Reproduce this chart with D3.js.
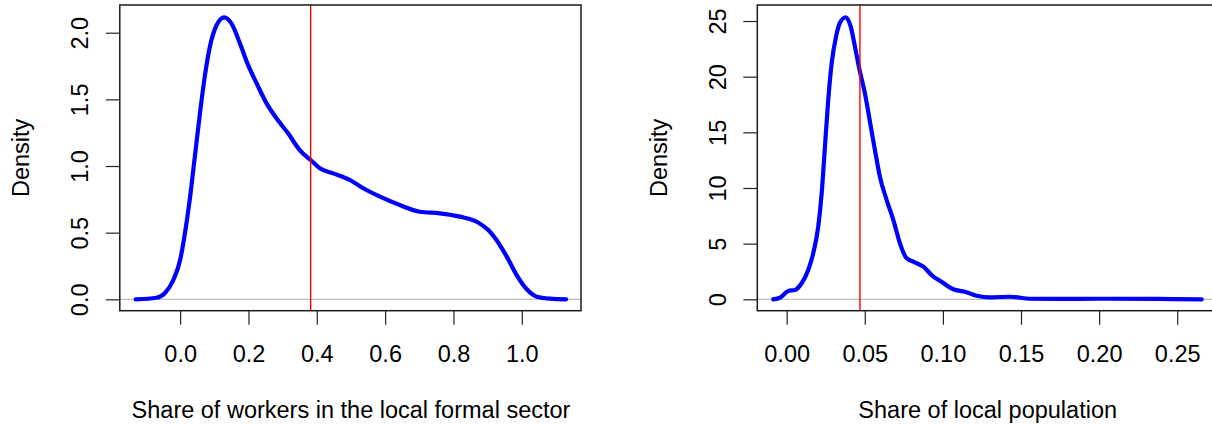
<!DOCTYPE html>
<html>
<head>
<meta charset="utf-8">
<script src="https://cdn.jsdelivr.net/npm/d3@7"></script>
<style>
  body { margin: 0; background: #fff; }
  svg { display: block; }
</style>
</head>
<body>
<script>
// Data
var formalX = [-0.13, -0.069, -0.045, -0.02, 0.0, 0.014, 0.028, 0.043, 0.058, 0.072, 0.087, 0.107, 0.129, 0.15, 0.175, 0.199, 0.224, 0.253, 0.282, 0.316, 0.35, 0.382, 0.409, 0.448, 0.497, 0.536, 0.585, 0.643, 0.702, 0.76, 0.819, 0.868, 0.902, 0.926, 0.956, 0.985, 1.014, 1.044, 1.083, 1.13];
var formalY = [0.0, 0.012, 0.045, 0.145, 0.295, 0.495, 0.745, 1.07, 1.395, 1.67, 1.895, 2.058, 2.115, 2.07, 1.92, 1.757, 1.62, 1.47, 1.358, 1.245, 1.12, 1.045, 0.983, 0.945, 0.895, 0.833, 0.77, 0.707, 0.657, 0.645, 0.62, 0.582, 0.52, 0.445, 0.32, 0.182, 0.077, 0.02, 0.005, 0.0];
var formalMean = 0.382;

var popX = [-0.0086, -0.0043, 0.001, 0.0053, 0.0096, 0.0138, 0.017, 0.0202, 0.0224, 0.0245, 0.0266, 0.0288, 0.0316, 0.0341, 0.0378, 0.041, 0.0437, 0.0469, 0.0501, 0.0533, 0.0565, 0.0597, 0.064, 0.0683, 0.0725, 0.0768, 0.081, 0.0875, 0.0939, 0.0981, 0.1067, 0.1141, 0.1216, 0.1302, 0.143, 0.1558, 0.1729, 0.2049, 0.2369, 0.2657];
var popY = [0.0, 0.14, 0.75, 0.84, 1.44, 2.63, 4.13, 6.52, 9.52, 13.71, 17.9, 21.2, 23.6, 24.85, 25.34, 24.5, 22.7, 20.45, 18.5, 15.96, 13.41, 11.0, 8.92, 7.12, 5.03, 3.68, 3.38, 2.93, 2.03, 1.67, 0.9, 0.68, 0.32, 0.18, 0.23, 0.05, 0.03, 0.05, 0.03, 0.0];
var popMean = 0.0469;

// tick labels
var formalXTicks = [0, 0.2, 0.4, 0.6, 0.8, 1.0];
var formalYTicks = [0, 0.5, 1.0, 1.5, 2.0];
var popXTicks = [0, 0.05, 0.10, 0.15, 0.20, 0.25];
var popYTicks = [0, 5, 10, 15, 20, 25];

var formalTitle = "Share of workers in the local formal sector";
var popTitle = "Share of local population";
var yTitle = "Density";

var svgWidth = 1212;
var svgHeight = 425;
var fontFam = "'Liberation Sans', Arial, Helvetica, sans-serif";
var fontSize = "23.5px";

var svg = d3.select("body")
            .append("svg")
            .attr("width", svgWidth)
            .attr("height", svgHeight);

svg.append("rect")
   .attr("width", svgWidth)
   .attr("height", svgHeight)
   .attr("fill", "#fff");

// one panel = one density plot like R's plot(density(...))
function drawPanel(p) {
  var xScale = d3.scaleLinear().domain(p.xDomain).range([p.left, p.right]);
  var yScale = d3.scaleLinear().domain(p.yDomain).range([p.bottom, p.top]);

  var g = svg.append("g");

  // zero line
  g.append("line")
   .attr("x1", p.left).attr("x2", p.right)
   .attr("y1", yScale(0)).attr("y2", yScale(0))
   .attr("stroke", "#bebebe")
   .attr("stroke-width", 1.2);

  // the curve
  var pts = p.xs.map(function(d, i) { return [d, p.ys[i]]; });
  var line = d3.line()
               .x(function(d) { return xScale(d[0]); })
               .y(function(d) { return yScale(d[1]); })
               .curve(d3.curveMonotoneX);

  g.append("path")
   .datum(pts)
   .attr("d", line)
   .attr("fill", "none")
   .attr("stroke", "#0000ff")
   .attr("stroke-width", 4.2)
   .attr("stroke-linejoin", "round")
   .attr("stroke-linecap", "round");

  // vertical red line
  g.append("line")
   .attr("x1", xScale(p.mean)).attr("x2", xScale(p.mean))
   .attr("y1", p.top).attr("y2", p.bottom)
   .attr("stroke", "#ff0000")
   .attr("stroke-width", 1.4);

  // box
  g.append("rect")
   .attr("x", p.left).attr("y", p.top)
   .attr("width", p.right - p.left)
   .attr("height", p.bottom - p.top)
   .attr("fill", "none")
   .attr("stroke", "#1a1a1a")
   .attr("stroke-width", 1.5);

  // x axis
  var bottomAxis = d3.axisBottom(xScale)
                     .tickValues(p.xTicks)
                     .tickSize(14)
                     .tickPadding(21)
                     .tickFormat(d3.format(p.xFmt));
  var gx = g.append("g")
            .attr("transform", "translate(0," + p.bottom + ")")
            .call(bottomAxis);
  gx.select(".domain").remove();
  gx.selectAll("line").attr("stroke", "#222").attr("stroke-width", 1.2);
  gx.selectAll("text")
    .attr("font-family", fontFam)
    .attr("font-size", fontSize)
    .attr("fill", "#000");

  // y axis, labels turned like R's default las=0
  var leftAxis = d3.axisLeft(yScale)
                   .tickValues(p.yTicks)
                   .tickSize(14)
                   .tickFormat(d3.format(p.yFmt));
  var gy = g.append("g")
            .attr("transform", "translate(" + p.left + ",0)")
            .call(leftAxis);
  gy.select(".domain").remove();
  gy.selectAll("line").attr("stroke", "#222").attr("stroke-width", 1.2);
  gy.selectAll("text")
    .attr("x", 0).attr("y", 0).attr("dy", 0)
    .attr("text-anchor", "middle")
    .attr("transform", "translate(-31.5,0) rotate(-90)")
    .attr("font-family", fontFam)
    .attr("font-size", fontSize)
    .attr("fill", "#000");

  // axis titles
  g.append("text")
   .attr("x", p.titleX)
   .attr("y", 418.3)
   .attr("text-anchor", "middle")
   .attr("font-family", fontFam)
   .attr("font-size", fontSize)
   .text(p.xTitle);

  g.append("text")
   .attr("transform", "translate(" + (p.left - 90.5) + "," + ((p.top + p.bottom) / 2) + ") rotate(-90)")
   .attr("text-anchor", "middle")
   .attr("font-family", fontFam)
   .attr("font-size", fontSize)
   .text(yTitle);
}

drawPanel({
  left: 119.8, right: 581, top: 5, bottom: 310.7,
  xDomain: [-0.1766, 1.1733], yDomain: [-0.0855, 2.208],
  xs: formalX, ys: formalY, mean: formalMean,
  xTicks: formalXTicks, yTicks: formalYTicks,
  xFmt: ".1f", yFmt: ".1f",
  xTitle: formalTitle, titleX: 351
});

// right panel runs past the edge of the picture
drawPanel({
  left: 757.3, right: 1248, top: 5, bottom: 310.7,
  xDomain: [-0.0188, 0.2953], yDomain: [-1.024, 26.44],
  xs: popX, ys: popY, mean: popMean,
  xTicks: popXTicks, yTicks: popYTicks,
  xFmt: ".2f", yFmt: "d",
  xTitle: popTitle, titleX: 987.7
});
</script>
</body>
</html>
